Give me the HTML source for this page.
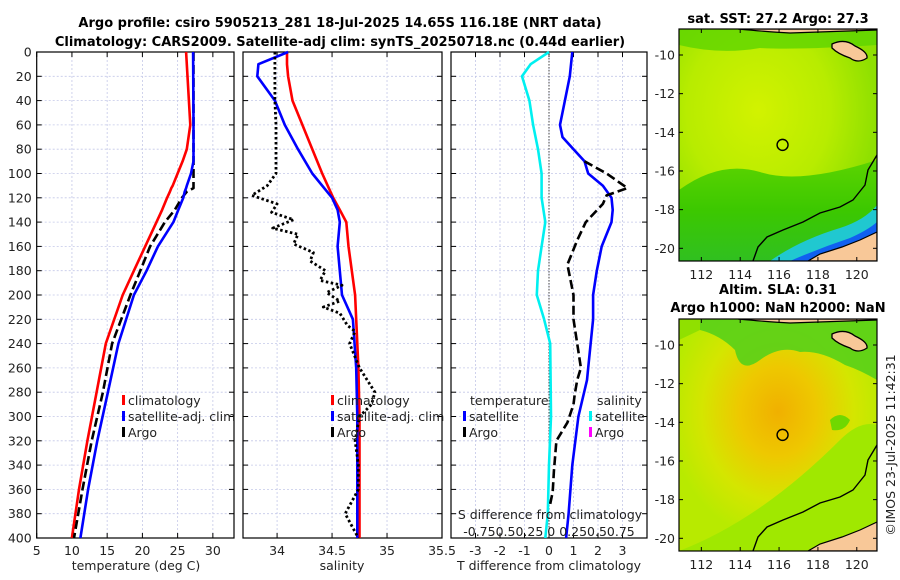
<!DOCTYPE html>
<html><head><meta charset="utf-8"><style>
html,body{margin:0;padding:0;background:#fff;}
svg{display:block;font-family:"DejaVu Sans","Liberation Sans",sans-serif;}
</style></head><body>
<svg id="fig" width="900" height="580" viewBox="0 0 900 580" xmlns="http://www.w3.org/2000/svg">
<defs>
<radialGradient id="sstg" cx="0.4" cy="0.35" r="0.6">
<stop offset="0" stop-color="#d2f200"/><stop offset="0.6" stop-color="#b8ec00"/><stop offset="1" stop-color="#8fe000"/>
</radialGradient>
<linearGradient id="sstlow" x1="0" y1="0" x2="0" y2="1">
<stop offset="0" stop-color="#5cd400"/><stop offset="0.5" stop-color="#3cc800"/><stop offset="1" stop-color="#30c020"/>
</linearGradient>
<radialGradient id="slag" cx="0.5" cy="0.4" r="0.55">
<stop offset="0" stop-color="#f0b000"/><stop offset="0.35" stop-color="#eec800"/><stop offset="0.7" stop-color="#d4e600"/><stop offset="1" stop-color="#b8ea00"/>
</radialGradient>
<clipPath id="m1c"><rect x="679" y="29" width="198" height="232"/></clipPath>
<clipPath id="m2c"><rect x="679" y="319" width="198" height="232"/></clipPath>
</defs>
<g id="root"></g>
</svg>
<script>
// ---- data ----
const depthT = [0,60,80,90,100,110,112,115,120,130,140,160,180,200,240,280,320,360,400];
const climT  = [26.2,26.8,26.3,25.7,25.0,24.3,24.1,23.9,23.5,22.8,22.0,20.4,18.8,17.2,14.8,13.5,12.2,11.0,10.0];
const satT   = [27.2,27.25,27.25,27.25,26.9,26.3,26.2,26.0,25.8,25.1,24.4,22.2,20.6,18.8,16.6,15.1,13.6,12.3,11.2];
const argoT  = [27.25,27.25,27.25,27.25,27.25,27.25,27.25,26.3,25.6,24.6,23.2,21.1,19.7,18.3,15.7,14.4,12.8,11.5,10.3];

const depthS = [0,10,20,40,60,80,100,120,130,140,160,180,200,220,260,300,340,380,400];
const climS  = [34.09,34.09,34.10,34.14,34.23,34.32,34.41,34.51,34.57,34.63,34.65,34.68,34.71,34.72,34.74,34.75,34.75,34.75,34.75];
const satS   = [34.10,33.83,33.82,33.98,34.07,34.19,34.32,34.50,34.55,34.57,34.55,34.57,34.59,34.69,34.72,34.73,34.73,34.73,34.73];
const depthA = [0,20,40,60,80,100,110,118,125,132,138,145,150,158,165,172,180,188,192,198,205,210,215,225,230,240,260,280,290,300,320,340,360,380,390,400];
const argoS  = [33.98,33.98,33.98,33.99,33.99,33.99,33.91,33.77,34.0,33.95,34.15,33.96,34.19,34.15,34.33,34.30,34.44,34.39,34.59,34.45,34.57,34.42,34.57,34.64,34.71,34.66,34.75,34.89,34.86,34.75,34.71,34.74,34.74,34.62,34.68,34.74];

const depthD = [0,20,40,60,70,80,90,100,110,120,130,140,160,180,200,220,260,270,300,340,380,400];
const satDT  = [0.95,0.85,0.65,0.45,0.55,1.0,1.45,1.6,2.2,2.55,2.6,2.55,2.15,1.95,1.8,1.8,1.6,1.55,1.2,0.95,0.8,0.7];
const depthAD= [90,100,112,118,125,140,155,165,175,195,200,220,240,260,270,282,290,305,320,345,362,372];
const argoDT = [1.45,2.35,3.2,2.35,2.2,1.5,1.15,0.95,0.75,0.95,1.0,1.0,1.15,1.3,1.15,1.05,1.0,0.75,0.3,0.2,0.15,0.05];
const depthC = [0,10,20,40,60,80,100,120,140,160,180,200,220,240,300,340,380,400];
const satDS  = [0,-0.75,-1.1,-0.8,-0.65,-0.45,-0.3,-0.3,-0.15,-0.3,-0.45,-0.5,-0.2,0.05,0.08,0.0,-0.05,-0.15];

const tTicks = [5,10,15,20,25,30];
const sTicks = [34,34.5,35,35.5];
const dTicks = [-3,-2,-1,0,1,2,3];
const yTicks = [0,20,40,60,80,100,120,140,160,180,200,220,240,260,280,300,320,340,360,380,400];
const lonTicks = [112,114,116,118,120];
const latTicks = [-10,-12,-14,-16,-18,-20];

// ---- helpers ----
const NS = "http://www.w3.org/2000/svg";
const root = document.getElementById('root');
function el(tag, attrs, parent, text){
  const e = document.createElementNS(NS, tag);
  for (const k in attrs) e.setAttribute(k, attrs[k]);
  if (text !== undefined) e.textContent = text;
  (parent||root).appendChild(e);
  return e;
}
const Y0 = 52, Y1 = 538;
const yD = d => Y0 + (Y1 - Y0) * d / 400;
function xs(lo, hi, px0, px1){ return v => px0 + (px1 - px0) * (v - lo) / (hi - lo); }
const xT = xs(5, 33, 36.7, 234);
const xS = xs(33.69, 35.5, 243, 442);
const xDiff = xs(-4, 4, 451, 647);

function panel(name, x0, x1, xf, ticks, fmt, leftLabels){
  const g = el('g', {}, root);
  
  
  ticks.forEach(t => {
    const x = xf(t);
    if (x > x0 + 1 && x < x1 - 1) {
      const l = el('line', {x1:x, x2:x, y1:Y0, y2:Y1, stroke:'#c4c8e8', 'stroke-width':0.8, 'stroke-dasharray':'2,2'}, g);
      
      
    }
    el('line', {x1:x, x2:x, y1:Y1, y2:Y1-5, stroke:'#000'}, g);
    el('line', {x1:x, x2:x, y1:Y0, y2:Y0+5, stroke:'#000'}, g);
    const tx = el('text', {x:x, y:555, 'font-size':12.5, 'text-anchor':'middle', fill:'#222'}, g, fmt(t));
    
    
  });
  yTicks.forEach(d => {
    const y = yD(d);
    if (d > 0 && d < 400) {
      const l = el('line', {x1:x0, x2:x1, y1:y, y2:y, stroke:'#c4c8e8', 'stroke-width':0.8, 'stroke-dasharray':'2,2'}, g);
      
      
    }
    el('line', {x1:x0, x2:x0+5, y1:y, y2:y, stroke:'#000'}, g);
    el('line', {x1:x1, x2:x1-5, y1:y, y2:y, stroke:'#000'}, g);
    if (leftLabels) {
      const tx = el('text', {x:x0-5, y:y+4.5, 'font-size':12.5, 'text-anchor':'end', fill:'#222'}, g, String(d));
      
      
    }
  });
  const fr = el('rect', {x:x0, y:Y0, width:x1-x0, height:Y1-Y0, fill:'none', stroke:'#000', 'stroke-width':1.2}, g);
  
  
  return g;
}
function series(g, name, xf, vals, depths, color, dash, w){
  const pts = vals.map((v,i) => xf(v).toFixed(1) + ',' + yD(depths[i]).toFixed(1)).join(' ');
  const p = el('polyline', {points:pts, fill:'none', stroke:color, 'stroke-width':w||2.6, 'stroke-linejoin':'round'}, g);
  if (dash) p.setAttribute('stroke-dasharray', dash);
  
  
  return p;
}
function legendEntry(g, name, x, y, color, label){
  const grp = el('g', {}, g);
  
  
  el('rect', {x:x, y:y-10, width:3, height:10, fill:color}, grp);
  el('text', {x:x+6, y:y, 'font-size':12.5, fill:'#222'}, grp, label);
}
function txt(name, x, y, s, attrs){
  const a = Object.assign({x:x, y:y, 'font-size':12.5, fill:'#222'}, attrs||{});
  const t = el('text', a, root, s);
  
  
  return t;
}

// ---- titles ----
txt('title-line-1', 340, 27, 'Argo profile: csiro 5905213_281 18-Jul-2025 14.65S 116.18E (NRT data)', {'font-weight':'bold', 'font-size':13, 'text-anchor':'middle', fill:'#000'});
txt('title-line-2', 340, 46, 'Climatology: CARS2009. Satellite-adj clim: synTS_20250718.nc (0.44d earlier)', {'font-weight':'bold', 'font-size':13, 'text-anchor':'middle', fill:'#000'});

// ---- panel 1: temperature ----
const p1 = panel('temperature-panel', 36.7, 234, xT, tTicks, String, true);
series(p1, 'climatology-temperature-line', xT, climT, depthT, '#ff0000');
series(p1, 'argo-temperature-line', xT, argoT, depthT, '#000000', '9,4');
series(p1, 'satellite-temperature-line', xT, satT, depthT, '#0000ff');
legendEntry(p1, 'legend-climatology', 122, 405, '#ff0000', 'climatology');
legendEntry(p1, 'legend-satellite-adj', 122, 421, '#0000ff', 'satellite-adj. clim');
legendEntry(p1, 'legend-argo', 122, 437, '#000000', 'Argo');
txt('x-axis-title-temperature', 136, 570, 'temperature (deg C)', {'text-anchor':'middle'});

// ---- panel 2: salinity ----
const p2 = panel('salinity-panel', 243, 442, xS, sTicks, String, false);
series(p2, 'climatology-salinity-line', xS, climS, depthS, '#ff0000');
series(p2, 'satellite-salinity-line', xS, satS, depthS, '#0000ff');
series(p2, 'argo-salinity-line', xS, argoS, depthA, '#000000', '2.5,2.5', 2.8);
legendEntry(p2, 'legend-climatology-2', 331, 405, '#ff0000', 'climatology');
legendEntry(p2, 'legend-satellite-adj-2', 331, 421, '#0000ff', 'satellite-adj. clim');
legendEntry(p2, 'legend-argo-2', 331, 437, '#000000', 'Argo');
txt('x-axis-title-salinity', 342, 570, 'salinity', {'text-anchor':'middle'});

// ---- panel 3: differences ----
const p3 = panel('difference-panel', 451, 647, xDiff, dTicks, String, false);
const zl = el('line', {x1:xDiff(0), x2:xDiff(0), y1:Y0, y2:Y1, stroke:'#444', 'stroke-width':1, 'stroke-dasharray':'1.5,1.5'}, p3);


series(p3, 'salinity-satellite-diff-line', xDiff, satDS, depthC, '#00f0f0');
series(p3, 'temperature-satellite-diff-line', xDiff, satDT, depthD, '#0000ff');
series(p3, 'temperature-argo-diff-line', xDiff, argoDT, depthAD, '#000000', '9,4');
txt('legend-title-temperature', 470, 405, 'temperature');
txt('legend-title-salinity', 597, 405, 'salinity');
legendEntry(p3, 'legend-temp-satellite', 463, 421, '#0000ff', 'satellite');
legendEntry(p3, 'legend-temp-argo', 463, 437, '#000000', 'Argo');
legendEntry(p3, 'legend-sal-satellite', 589, 421, '#00f0f0', 'satellite');
legendEntry(p3, 'legend-sal-argo', 589, 437, '#ff00ff', 'Argo');
txt('s-axis-title', 550, 519, 'S difference from climatology', {'text-anchor':'middle'});
txt('s-axis-tick-labels', 549, 536, '-0.750.50.25 0  0.250.50.75', {'text-anchor':'middle'});
txt('x-axis-title-difference', 549, 570, 'T difference from climatology', {'text-anchor':'middle'});

// ---- maps ----
const lonX = lon => 679 + (lon - 110.85) * 19.43;
function latY(lat, top){ return top + 26 + (-10 - lat) * 19.33; }
function mapAxes(name, top){
  const g = el('g', {}, root);
  
  
  lonTicks.forEach(l => {
    const x = lonX(l);
    el('line', {x1:x, x2:x, y1:top+232, y2:top+228, stroke:'#000'}, g);
    el('line', {x1:x, x2:x, y1:top, y2:top+4, stroke:'#000'}, g);
    el('text', {x:x, y:top+250, 'font-size':12.5, 'text-anchor':'middle', fill:'#222'}, g, String(l));
  });
  latTicks.forEach(l => {
    const y = latY(l, top);
    el('line', {x1:679, x2:683, y1:y, y2:y, stroke:'#000'}, g);
    el('line', {x1:877, x2:873, y1:y, y2:y, stroke:'#000'}, g);
    el('text', {x:675, y:y+4.5, 'font-size':12.5, 'text-anchor':'end', fill:'#222'}, g, String(l));
  });
  el('rect', {x:679, y:top, width:198, height:232, fill:'none', stroke:'#000', 'stroke-width':1.2}, g);
  const c = el('circle', {cx:lonX(116.18), cy:latY(-14.65, top), r:5.5, fill:'none', stroke:'#000', 'stroke-width':1.4}, g);
  
  
}
function coast(g, off){
  const land = '#f8c898';
  el('path', {d:`M877 ${155+off} L868 ${170+off} L865 ${185+off} L853 ${200+off} L840 ${207+off} L820 ${213+off} L803 ${222+off} L783 ${230+off} L767 ${237+off} L758 ${247+off} L753 ${261+off}`, fill:'none', stroke:'#000', 'stroke-width':1.4}, g);
  el('path', {d:`M877 ${232+off} L860 ${240+off} L842 ${247+off} L820 ${254+off} L808 ${261+off} L877 ${261+off} Z`, fill:land, stroke:'#000', 'stroke-width':1.2}, g);
  el('path', {d:`M832 ${44+off} Q845 ${38+off} 855 ${46+off} Q868 ${52+off} 867 ${58+off} Q858 ${64+off} 850 ${58+off} Q838 ${54+off} 832 ${48+off} Z`, fill:land, stroke:'#000', 'stroke-width':1.3}, g);
  el('path', {d:`M738 ${29+off} Q770 ${32+off} 790 ${33+off} Q820 ${32+off} 877 ${30+off} L877 ${29+off} Z`, fill:land, stroke:'#000', 'stroke-width':1.2}, g);
}
// map 1: SST
txt('sst-map-title', 778, 23, 'sat. SST: 27.2 Argo: 27.3', {'font-weight':'bold', 'font-size':13, 'text-anchor':'middle', fill:'#000'});
const m1 = el('g', {'clip-path':'url(#m1c)'}, root);


el('rect', {x:679, y:29, width:198, height:232, fill:'url(#sstg)'}, m1);
el('path', {d:'M679 190 Q720 160 760 172 Q800 185 877 160 L877 261 L679 261 Z', fill:'url(#sstlow)'}, m1);
el('path', {d:'M679 29 L877 29 L877 45 Q800 50 760 48 Q720 55 679 45 Z', fill:'#5cd400', opacity:0.8}, m1);
el('path', {d:'M770 261 Q800 240 840 228 Q865 220 877 205 L877 261 Z', fill:'#20c8d0'}, m1);
el('path', {d:'M790 261 Q820 248 850 238 Q868 230 877 222 L877 261 Z', fill:'#1060f0'}, m1);
el('path', {d:'M808 261 Q835 252 860 242 L877 236 L877 261 Z', fill:'#000080'}, m1);
coast(m1, 0);
mapAxes('sst-map-axes', 29);
// map 2: SLA
txt('sla-map-title-1', 778, 294, 'Altim. SLA: 0.31', {'font-weight':'bold', 'font-size':13, 'text-anchor':'middle', fill:'#000'});
txt('sla-map-title-2', 778, 312, 'Argo h1000: NaN h2000: NaN', {'font-weight':'bold', 'font-size':13, 'text-anchor':'middle', fill:'#000'});
const m2 = el('g', {'clip-path':'url(#m2c)'}, root);


el('rect', {x:679, y:319, width:198, height:232, fill:'url(#slag)'}, m2);
el('path', {d:'M700 319 L877 319 L877 380 Q860 370 845 365 Q820 350 800 352 Q780 345 760 360 Q740 375 735 350 Q720 335 700 330 Z', fill:'#58d018', opacity:0.9}, m2);
el('path', {d:'M679 319 L700 319 L700 330 L679 340 Z', fill:'#90e000'}, m2);
el('path', {d:'M840 440 Q860 420 877 425 L877 551 L679 551 Q760 520 840 440 Z', fill:'#a0e800'}, m2);
el('path', {d:'M830 420 Q840 410 850 420 Q845 432 832 430 Z', fill:'#70d800'}, m2);
coast(m2, 290);
mapAxes('sla-map-axes', 319);

// credit
txt('imos-credit', 0, 0, '©IMOS 23-Jul-2025 11:42:31', {transform:'translate(895,445) rotate(-90)', 'text-anchor':'middle'});
</script>
</body></html>
